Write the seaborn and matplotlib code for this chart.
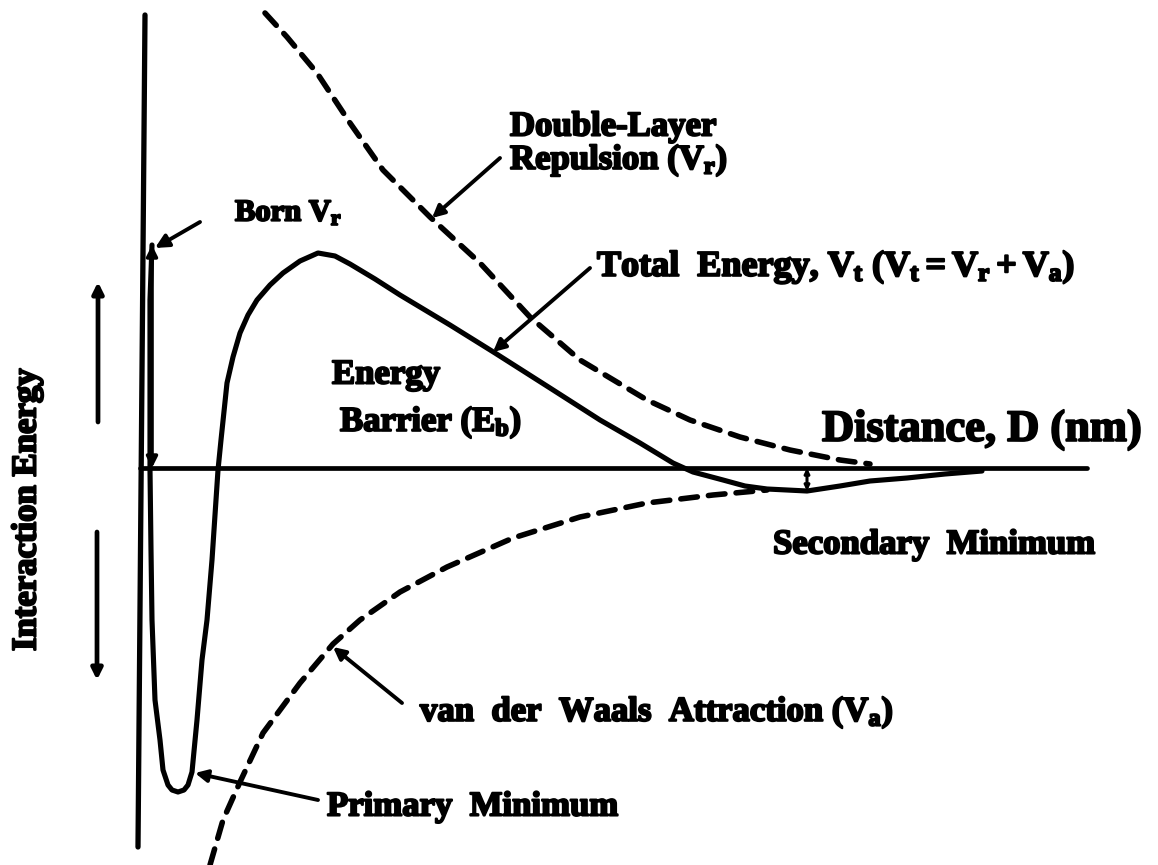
import matplotlib
matplotlib.use("Agg")
import matplotlib.pyplot as plt
import numpy as np
import seaborn as sns
from matplotlib import patheffects as pe

# DLVO interaction-energy profile, schematic units (origin where the axes cross)
total_D = [9, 7, 7, 7, 8, 9, 12, 17, 20, 25, 29, 35, 41, 45, 49, 54, 59, 64, 69, 73,
           75, 78, 84, 90, 97, 105, 114, 127, 140, 157, 175, 192, 207, 232, 257, 307,
           352, 407, 457, 497, 530, 550, 580, 602, 624, 664, 697, 727, 764, 802, 839]
total_V = [223, 168, 68, -2, -82, -152, -232, -272, -302, -317, -322, -324, -322, -317,
           -304, -252, -192, -152, -92, -32, -2, 28, 85, 111, 135, 153, 168, 183, 195,
           207, 215, 212, 204, 189, 173, 143, 115, 80, 48, 25, 5, -4, -12, -18, -21,
           -23, -18, -13, -10, -6, -3]

repulsion_D = [122, 144, 174, 207, 240, 287, 337, 387, 437, 504, 547, 597, 647, 697, 727]
repulsion_V = [455, 431, 395, 345, 298, 251, 205, 151, 108, 68, 48, 31, 18, 8, 4]

attraction_D = [67, 80, 97, 120, 157, 190, 217, 257, 304, 370, 437, 504, 570, 624]
attraction_V = [-397, -352, -314, -265, -215, -176, -152, -124, -99, -70, -49, -35, -27, -22]

# axis extents
energy_axis = ([2, -5], [453, -379])
distance_axis = ([-3, 944], [0, 0])

sns.set_theme(style="white")
plt.rcParams["font.family"] = ["Liberation Serif", "DejaVu Serif"]
plt.rcParams["font.weight"] = "bold"
plt.rcParams["mathtext.fontset"] = "custom"
plt.rcParams["mathtext.rm"] = "Liberation Serif:bold"
plt.rcParams["mathtext.it"] = "Liberation Serif:bold"
plt.rcParams["mathtext.bf"] = "Liberation Serif:bold"

fig = plt.figure(figsize=(11.58, 8.65), dpi=100, facecolor="white")
ax = fig.add_axes([0, 0, 1, 1])
ax.set_xlim(-143, 1015)
ax.set_ylim(-397, 468)
ax.axis("off")

ink = "black"
dash = (0, (3.0, 2.0))

# axes
sns.lineplot(x=energy_axis[0], y=energy_axis[1], sort=False, estimator=None,
             color=ink, lw=3.8, ax=ax)
sns.lineplot(x=distance_axis[0], y=distance_axis[1], sort=False, estimator=None,
             color=ink, lw=3.4, solid_capstyle="round", ax=ax)

# component curves
for xs, ys in ((repulsion_D, repulsion_V), (attraction_D, attraction_V)):
    line = sns.lineplot(x=xs, y=ys, sort=False, estimator=None, color=ink,
                        lw=4.0, ax=ax).lines[-1]
    line.set_linestyle(dash)
    line.set_dash_capstyle("round")

# total energy
sns.lineplot(x=total_D, y=total_V, sort=False, estimator=None, color=ink,
             lw=3.7, solid_capstyle="round", solid_joinstyle="round", ax=ax)

stroke = [pe.withStroke(linewidth=1.5, foreground=ink)]
fs = 25


def label(x, y, s, size=fs, **kw):
    kw.setdefault("ha", "left")
    kw.setdefault("va", "center")
    ax.text(x, y, s, fontsize=size, fontweight="bold", color=ink,
            path_effects=stroke, **kw)


def pointer(xy_from, xy_to, style="-|>", ms=18, lw=2.8):
    ax.annotate("", xy=xy_to, xytext=xy_from,
                arrowprops=dict(arrowstyle=style, color=ink, lw=lw,
                                mutation_scale=ms, shrinkA=0, shrinkB=0))


# energy barrier: from the axis up to the peak of the total curve
i_peak = int(np.argmax(total_V))
pointer((total_D[i_peak], 0), (total_D[i_peak], total_V[i_peak]), style="<|-|>", ms=16, lw=2.6)

# secondary minimum depth
far = [i for i, d in enumerate(total_D) if d > 400]
i_sec = min(far, key=lambda i: total_V[i])
pointer((total_D[i_sec], 0), (total_D[i_sec], total_V[i_sec]), style="<|-|>", ms=7, lw=2.2)

# sign arrows beside the energy axis
pointer((-45, 46), (-45, 186), ms=16, lw=3.4)
pointer((-46, -64), (-46, -212), ms=16, lw=3.4)

# leader lines
pointer((57, 246), (12, 220), ms=20)
pointer((357, 310), (289, 250), ms=18)
pointer((447, 200), (350, 116), ms=18)
pointer((259, -235), (190, -179), ms=18)
pointer((175, -332), (52, -305), ms=18)

# text
label(92, 255, r"Born $V_r$", size=22)
label(367, 341, "Double-Layer")
label(367, 308, r"Repulsion ($V_r$)")
label(454, 201, r"Total  Energy, $V_t$ ($V_t = V_r + V_a$)", size=26)
label(189, 93, "Energy")
label(197, 46, r"Barrier ($E_b$)")
label(679, 38, "Distance, D (nm)", size=32)
label(630, -77, "Secondary  Minimum")
label(277, -244, r"van  der  Waals  Attraction ($V_a$)")
label(184, -339, "Primary  Minimum")
label(-116, -42, "Interaction Energy", ha="center", rotation=90)

fig.savefig("out.png", dpi=100, facecolor="white")
